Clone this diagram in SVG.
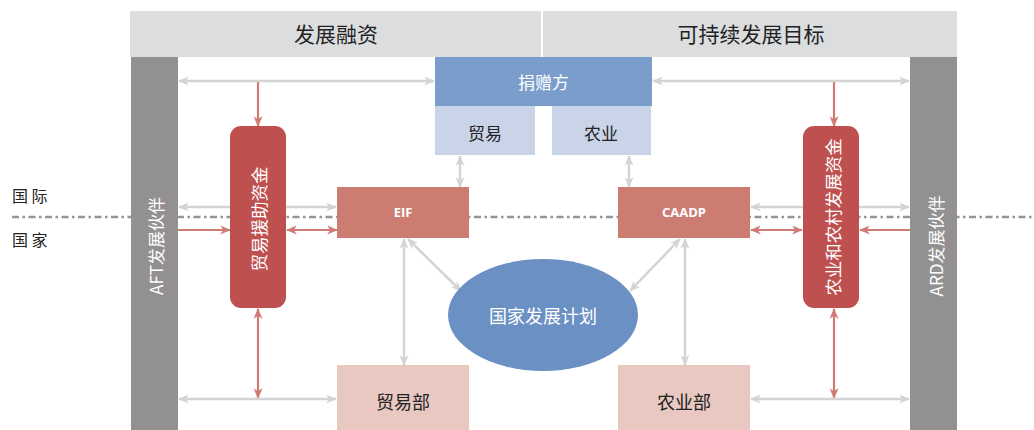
<svg xmlns="http://www.w3.org/2000/svg" width="1034" height="430" viewBox="0 0 1034 430">
<defs>
<style>
text{font-family:"Noto Sans CJK SC","Noto Sans",sans-serif;}
.hdr{fill:#DCDDDF;}
.hdrt{font-size:21px;fill:#222;text-anchor:middle;}
.partner{fill:#939091;}
.wt{fill:#fff;text-anchor:middle;dominant-baseline:central;}
.dk{fill:#222;text-anchor:middle;dominant-baseline:central;}
.fund{fill:#BE5150;}
.prog{fill:#CD7C72;}
.sub{fill:#C9D4E9;}
.min{fill:#E8C8C1;}
.g{stroke:#D4D4D4;stroke-width:2.5;fill:none;}
.r{stroke:#CF7C74;stroke-width:2.2;fill:none;}
.g2{marker-start:url(#ag);marker-end:url(#ag);}
.g1{marker-end:url(#ag);}
.r2{marker-start:url(#ar);marker-end:url(#ar);}
.r1{marker-end:url(#ar);}
</style>
<marker id="ag" viewBox="0 0 12 10" refX="11" refY="5" markerWidth="11" markerHeight="9" markerUnits="userSpaceOnUse" orient="auto-start-reverse">
<path d="M0,0 L12,5 L0,10 L3.5,5 z" fill="#D4D4D4"/>
</marker>
<marker id="ar" viewBox="0 0 12 10" refX="11" refY="5" markerWidth="11" markerHeight="9" markerUnits="userSpaceOnUse" orient="auto-start-reverse">
<path d="M0,0 L12,5 L0,10 L3.5,5 z" fill="#CF7C74"/>
</marker>
</defs>
<rect x="0" y="0" width="1034" height="430" fill="#fff"/>

<g id="divider">
<line x1="12" y1="217" x2="1034" y2="217" stroke="#939598" stroke-width="2.6" stroke-dasharray="7 3.5 2.5 3.5"/>
<text x="12" y="202" font-size="16" fill="#222" xml:space="preserve">国 际</text>
<text x="12" y="246" font-size="16" fill="#222" xml:space="preserve">国 家</text>
</g>

<g id="connectors">
<line class="g g2" x1="179" y1="81" x2="434" y2="81"/>
<line class="g g2" x1="653" y1="81" x2="909" y2="81"/>
<line class="r r1" x1="258" y1="82" x2="258" y2="126"/>
<line class="r r1" x1="834" y1="82" x2="834" y2="126"/>
<line class="g g2" x1="179" y1="207" x2="336" y2="207"/>
<line class="g g2" x1="751" y1="207" x2="909" y2="207"/>
<line class="r r1" x1="178" y1="230" x2="230" y2="230"/>
<line class="r r2" x1="287" y1="230" x2="337" y2="230"/>
<line class="r r2" x1="751" y1="230" x2="802" y2="230"/>
<line class="r r1" x1="910" y1="230" x2="860" y2="230"/>
<line class="g g2" x1="460" y1="156" x2="460" y2="187"/>
<line class="g g2" x1="629" y1="156" x2="629" y2="187"/>
<line class="g g2" x1="404" y1="239" x2="404" y2="365"/>
<line class="g g2" x1="685" y1="239" x2="685" y2="365"/>
<line class="g g2" x1="408" y1="239" x2="461" y2="291"/>
<line class="g g2" x1="680" y1="239" x2="630" y2="291"/>
<line class="r r2" x1="258" y1="309" x2="258" y2="398"/>
<line class="r r2" x1="834" y1="309" x2="834" y2="398"/>
<line class="g g2" x1="179" y1="399" x2="336" y2="399"/>
<line class="g g2" x1="751" y1="399" x2="909" y2="399"/>
</g>

<g id="header-left">
<rect class="hdr" x="130" y="11" width="411" height="46"/>
<text class="hdrt" x="336" y="42">发展融资</text>
</g>
<g id="header-right">
<rect class="hdr" x="543" y="11" width="414" height="46"/>
<text class="hdrt" x="751" y="42">可持续发展目标</text>
</g>

<g id="aft-partners">
<rect class="partner" x="131" y="57" width="47" height="373"/>
<text class="wt" font-size="17" transform="translate(155,246) rotate(-90)">AFT发展伙伴</text>
</g>
<g id="ard-partners">
<rect class="partner" x="910" y="57" width="47" height="373"/>
<text class="wt" font-size="17" transform="translate(935,246) rotate(-90)">ARD发展伙伴</text>
</g>

<g id="donor">
<rect x="435" y="57" width="217" height="49" fill="#7B9DCB"/>
<text class="wt" font-size="17" x="543.5" y="81">捐赠方</text>
</g>
<g id="donor-trade">
<rect class="sub" x="435" y="106" width="100" height="49"/>
<text class="dk" font-size="17" x="485" y="132">贸易</text>
</g>
<g id="donor-agri">
<rect class="sub" x="552" y="106" width="99" height="49"/>
<text class="dk" font-size="17" x="601" y="132">农业</text>
</g>

<g id="aft-fund">
<rect class="fund" x="230" y="126" width="56" height="182" rx="11"/>
<text class="wt" font-size="17.5" transform="translate(258,219) rotate(-90)">贸易援助资金</text>
</g>
<g id="ard-fund">
<rect class="fund" x="803" y="126" width="56" height="182" rx="11"/>
<text class="wt" font-size="17.5" transform="translate(832,217) rotate(-90)">农业和农村发展资金</text>
</g>

<g id="eif">
<rect class="prog" x="337" y="187" width="132" height="51"/>
<text class="wt" font-size="13" font-weight="bold" x="403" y="212" style="font-family:'Open Sans','Noto Sans',sans-serif">EIF</text>
</g>
<g id="caadp">
<rect class="prog" x="618" y="187" width="132" height="51"/>
<text class="wt" font-size="13" font-weight="bold" x="684" y="212" style="font-family:'Open Sans','Noto Sans',sans-serif">CAADP</text>
</g>

<g id="national-plan">
<ellipse cx="543" cy="315" rx="95" ry="56" fill="#6B90C3"/>
<text class="wt" font-size="18" x="543" y="315">国家发展计划</text>
</g>

<g id="ministry-trade">
<rect class="min" x="337" y="365" width="132" height="65"/>
<text class="dk" font-size="18" x="403" y="401">贸易部</text>
</g>
<g id="ministry-agri">
<rect class="min" x="618" y="365" width="132" height="65"/>
<text class="dk" font-size="18" x="684" y="401">农业部</text>
</g>
</svg>
